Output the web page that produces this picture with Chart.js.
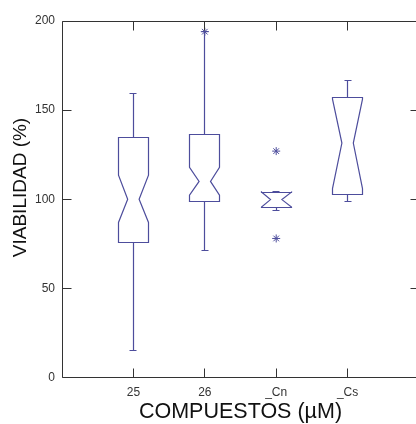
<!DOCTYPE html>
<html>
<head>
<meta charset="utf-8">
<script src="https://cdn.jsdelivr.net/npm/chart.js@4/dist/chart.umd.min.js"></script>
<style>
  html, body { margin: 0; padding: 0; background: #fff; overflow: hidden; }
  #wrap { position: absolute; left: 0; top: 0; width: 424px; height: 424px; }
</style>
</head>
<body>
<div id="wrap"><canvas id="c" width="424" height="424"></canvas></div>
<script>
// Notched box plot of cell viability per compound
const categories  = ['25', '26', '_Cn', '_Cs'];
const whiskerLow  = [15.4, 71.5, 93.5, 99.0];
const quartile1   = [75.8, 98.6, 95.6, 102.8];
const notchLow    = [87.0, 102.3, 95.6, 106.0];
const medians     = [100.0, 110.0, 99.8, 131.5];
const notchHigh   = [113.5, 117.9, 104.0, 156.2];
const quartile3   = [134.9, 136.4, 104.0, 157.0];
const whiskerHigh = [159.3, 194.0, 104.5, 166.9];
const outlierGroup = [2, 3, 3];
const outlierValue = [194.0, 127.0, 78.0];
const yTicks = [0, 50, 100, 150, 200];

const BOX_COLOR = '#4d4d9c';
const AXIS_COLOR = '#333333';
const FONT = '"Liberation Sans", Arial, sans-serif';

const crisp = v => Math.round(v - 0.5) + 0.5;

// Draws the notched boxes and whiskers on the chart's scales
const notchedBoxes = {
  id: 'notchedBoxes',
  beforeDatasetsDraw(chart) {
    const { ctx, scales: { x, y } } = chart;
    const Y = v => y.getPixelForValue(v);
    ctx.save();
    ctx.strokeStyle = BOX_COLOR;
    ctx.lineWidth = 1.2;
    categories.forEach((name, i) => {
      const pos = i + 1;
      const xc = crisp(x.getPixelForValue(pos));
      const xl = crisp(x.getPixelForValue(pos - 0.21));
      const xr = crisp(x.getPixelForValue(pos + 0.21));
      const xil = x.getPixelForValue(pos - 0.08);
      const xir = x.getPixelForValue(pos + 0.08);
      const cl = crisp(x.getPixelForValue(pos - 0.05));
      const cr = crisp(x.getPixelForValue(pos + 0.05));

      ctx.beginPath();
      // upper whisker + cap
      ctx.moveTo(xc, crisp(Y(quartile3[i]))); ctx.lineTo(xc, crisp(Y(whiskerHigh[i])));
      ctx.moveTo(cl, crisp(Y(whiskerHigh[i]))); ctx.lineTo(cr, crisp(Y(whiskerHigh[i])));
      // lower whisker + cap
      ctx.moveTo(xc, crisp(Y(quartile1[i]))); ctx.lineTo(xc, crisp(Y(whiskerLow[i])));
      ctx.moveTo(cl, crisp(Y(whiskerLow[i]))); ctx.lineTo(cr, crisp(Y(whiskerLow[i])));
      ctx.stroke();

      // notched box outline
      ctx.beginPath();
      ctx.moveTo(xl, crisp(Y(quartile1[i])));
      ctx.lineTo(xl, Y(notchLow[i]));
      ctx.lineTo(xil, Y(medians[i]));
      ctx.lineTo(xl, Y(notchHigh[i]));
      ctx.lineTo(xl, crisp(Y(quartile3[i])));
      ctx.lineTo(xr, crisp(Y(quartile3[i])));
      ctx.lineTo(xr, Y(notchHigh[i]));
      ctx.lineTo(xir, Y(medians[i]));
      ctx.lineTo(xr, Y(notchLow[i]));
      ctx.lineTo(xr, crisp(Y(quartile1[i])));
      ctx.closePath();
      ctx.stroke();
    });
    ctx.restore();
  }
};

// Axes frame with inward tick marks on all four sides, plus axis titles
const frame = {
  id: 'frame',
  afterDraw(chart) {
    const { ctx, chartArea: a, scales: { x, y } } = chart;
    const tl = 9;
    ctx.save();
    ctx.strokeStyle = AXIS_COLOR;
    ctx.lineWidth = 1;
    const L = crisp(a.left), R = crisp(a.right), T = crisp(a.top), B = crisp(a.bottom);
    ctx.beginPath();
    ctx.rect(L, T, R - L, B - T);
    yTicks.forEach(v => {
      const py = crisp(y.getPixelForValue(v));
      ctx.moveTo(L, py); ctx.lineTo(L + tl, py);
      ctx.moveTo(R, py); ctx.lineTo(R - tl, py);
    });
    categories.forEach((c, i) => {
      const px = crisp(x.getPixelForValue(i + 1));
      ctx.moveTo(px, B); ctx.lineTo(px, B - tl);
      ctx.moveTo(px, T); ctx.lineTo(px, T + tl);
    });
    ctx.stroke();

    ctx.fillStyle = '#111';
    ctx.textAlign = 'center';
    ctx.textBaseline = 'middle';
    ctx.font = '21.5px ' + FONT;
    ctx.fillText('COMPUESTOS (\u00b5M)', 240.5, 412);
    ctx.translate(21, 187.5);
    ctx.rotate(-Math.PI / 2);
    ctx.font = '19px ' + FONT;
    ctx.fillText('VIABILIDAD (%)', 0, 0);
    ctx.restore();
  }
};

new Chart(document.getElementById('c'), {
  type: 'scatter',
  data: {
    datasets: [{
      data: outlierGroup.map((g, i) => ({ x: g, y: outlierValue[i] })),
      pointStyle: 'star',
      radius: 4,
      borderColor: BOX_COLOR,
      backgroundColor: BOX_COLOR,
      borderWidth: 1
    }]
  },
  options: {
    responsive: false,
    animation: false,
    events: [],
    layout: { padding: { left: 0, right: 3, top: 21, bottom: 0 } },
    plugins: { legend: { display: false }, tooltip: { enabled: false } },
    scales: {
      x: {
        type: 'linear', min: 0, max: 5,
        afterBuildTicks: s => { s.ticks = categories.map((c, i) => ({ value: i + 1 })); },
        afterFit: s => { s.height = 46.5; },
        grid: { display: false, drawTicks: false },
        border: { display: false },
        ticks: {
          autoSkip: false, maxRotation: 0, padding: 8, color: AXIS_COLOR,
          font: { family: FONT, size: 12 },
          callback: v => categories[v - 1] ?? ''
        }
      },
      y: {
        type: 'linear', min: 0, max: 200,
        afterBuildTicks: s => { s.ticks = yTicks.map(v => ({ value: v })); },
        afterFit: s => { s.width = 62; },
        grid: { display: false, drawTicks: false },
        border: { display: false },
        ticks: { padding: 7, color: AXIS_COLOR, font: { family: FONT, size: 12 } }
      }
    }
  },
  plugins: [notchedBoxes, frame]
});
</script>
</body>
</html>
